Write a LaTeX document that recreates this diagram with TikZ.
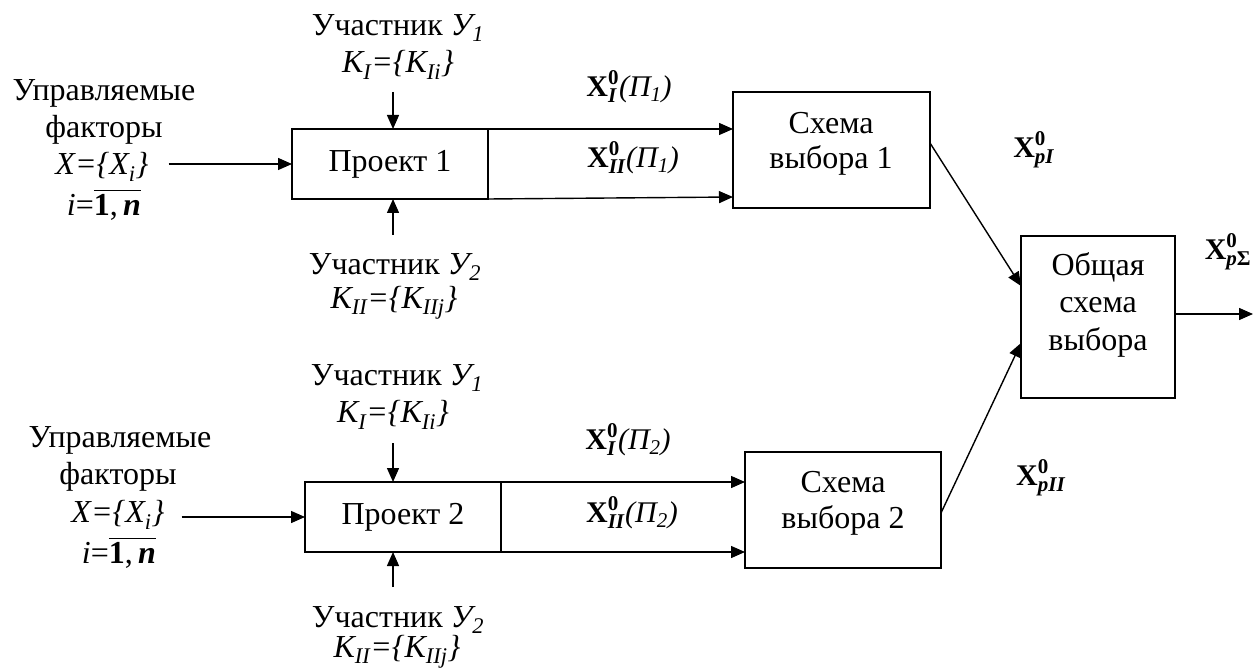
\documentclass[tikz,border=0pt]{standalone}
\usepackage{amsmath}
\usepackage{fontspec}
\setmainfont{Liberation Serif}
\usetikzlibrary{arrows.meta,calc}
\newcommand\Xz[2]{$\text{\textbf{X}}^{\text{\textbf{0}}}_{\text{\textbf{\textit{#1}}}}$#2}
\newcommand\Ione{\textit{i}=$\overline{\text{\textbf{1},\,\textbf{\textit{n}}}}$}
\begin{document}
\begin{tikzpicture}[x=1pt,y=-1pt,
  every node/.style={font=\fontsize{32}{37}\selectfont},
  box/.style={draw, line width=1.6pt, anchor=north west, inner sep=0pt, outer sep=0pt},
  lbl/.style={inner sep=0pt, align=center},
  xl/.style={inner sep=0pt, font=\fontsize{30}{34}\selectfont},
  arr/.style={-{Triangle[length=14pt,width=12pt]}, line width=1.4pt}]
\useasboundingbox (0,0) rectangle (1253,668);

% ---------- section 1 ----------
\node[box, minimum width=196pt, minimum height=70pt] (p1) at (292,129) {Проект 1};
\node[box, minimum width=197pt, minimum height=116pt] (s1) at (733,92) {};
\node[lbl] (s1a) at (831,123) {Схема};
\node[lbl] (s1b) at (831,160) {выбора 1};

\node[lbl] (l1a) at (104,93) {Управляемые};
\node[lbl] (l1b) at (104,130) {факторы};
\node[lbl] (l1x) at (102,167) {\textit{X=\{X\textsubscript{i}\}}};
\node[lbl] (l1i) at (104,205) {\Ione};

\node[lbl] (u1a) at (398,28) {Участник \textit{У\textsubscript{1}}};
\node[lbl] (u1k) at (398,65) {\textit{К\textsubscript{I}=\{К\textsubscript{Ii}\}}};
\node[lbl] (u2a) at (395,267) {Участник \textit{У\textsubscript{2}}};
\node[lbl] (u2k) at (394,303) {\textit{К\textsubscript{II}=\{К\textsubscript{IIj}\}}};

\node[xl] (x1a) at (629,87) {\Xz{I}{\textit{(П\textsubscript{1})}}};
\node[xl] (x1b) at (633,158) {\Xz{II}{\textit{(П\textsubscript{1})}}};

\draw[arr] ([xshift=20pt]l1x.east |- p1.west) -- (p1.west);
\draw[arr] ($(p1.north)+(3,-37)$) -- ($(p1.north)+(3,0)$);
\draw[arr] ($(p1.south)+(3,36)$) -- ($(p1.south)+(3,0)$);
\draw[arr] (p1.north east) -- (p1.north east -| s1.west);
\draw[arr] (p1.south east) -- ($(p1.south east -| s1.west)+(0,-2)$);

% ---------- section 2 ----------
\node[box, minimum width=196pt, minimum height=70pt] (p2) at (305,482) {Проект 2};
\node[box, minimum width=196pt, minimum height=116pt] (s2) at (745,452) {};
\node[lbl] (s2a) at (843,482) {Схема};
\node[lbl] (s2b) at (843,520) {выбора 2};

\node[lbl] (l2a) at (120,440) {Управляемые};
\node[lbl] (l2b) at (118,477) {факторы};
\node[lbl] (l2x) at (118,515) {\textit{X=\{X\textsubscript{i}\}}};
\node[lbl] (l2i) at (119,553) {\Ione};

\node[lbl] (v1a) at (397,378) {Участник \textit{У\textsubscript{1}}};
\node[lbl] (v1k) at (393,415) {\textit{К\textsubscript{I}=\{К\textsubscript{Ii}\}}};
\node[lbl] (v2a) at (398,620) {Участник \textit{У\textsubscript{2}}};
\node[lbl] (v2k) at (397,652) {\textit{К\textsubscript{II}=\{К\textsubscript{IIj}\}}};

\node[xl] (x2a) at (628,440) {\Xz{I}{\textit{(П\textsubscript{2})}}};
\node[xl] (x2b) at (632,513) {\Xz{II}{\textit{(П\textsubscript{2})}}};

\draw[arr] ([xshift=17pt]l2x.east |- p2.west) -- (p2.west);
\draw[arr] ($(p2.north)+(-10,-39)$) -- ($(p2.north)+(-10,0)$);
\draw[arr] ($(p2.south)+(-10,35)$) -- ($(p2.south)+(-10,0)$);
\draw[arr] (p2.north east) -- (p2.north east -| s2.west);
\draw[arr] (p2.south east) -- (p2.south east -| s2.west);

% ---------- general ----------
\node[box, minimum width=154pt, minimum height=162pt] (g) at (1021,236) {};
\node[lbl] (ga) at (1098,267) {Общая};
\node[lbl] (gb) at (1098,305) {схема};
\node[lbl] (gc) at (1098,342) {выбора};
\coordinate (out) at (1253,314);

\node[xl] (xp1) at (1034,150) {\Xz{pI}{}};
\node[xl] (xp2) at (1041,478) {\Xz{pII}{}};
\node[xl] (xps) at (1228,252) {$\text{\textbf{X}}^{\text{\textbf{0}}}_{\text{\textbf{\textit{p}}\textbf{Σ}}}$};

\draw[arr] ($(s1.north east)+(0,51)$) -- ($(g.north west)+(0,50)$);
\draw[arr] ($(s2.north east)+(0,61)$) -- ($(g.north west)+(0,107)$);
\draw[arr] (g.east |- out) -- (out);
\end{tikzpicture}
\end{document}
